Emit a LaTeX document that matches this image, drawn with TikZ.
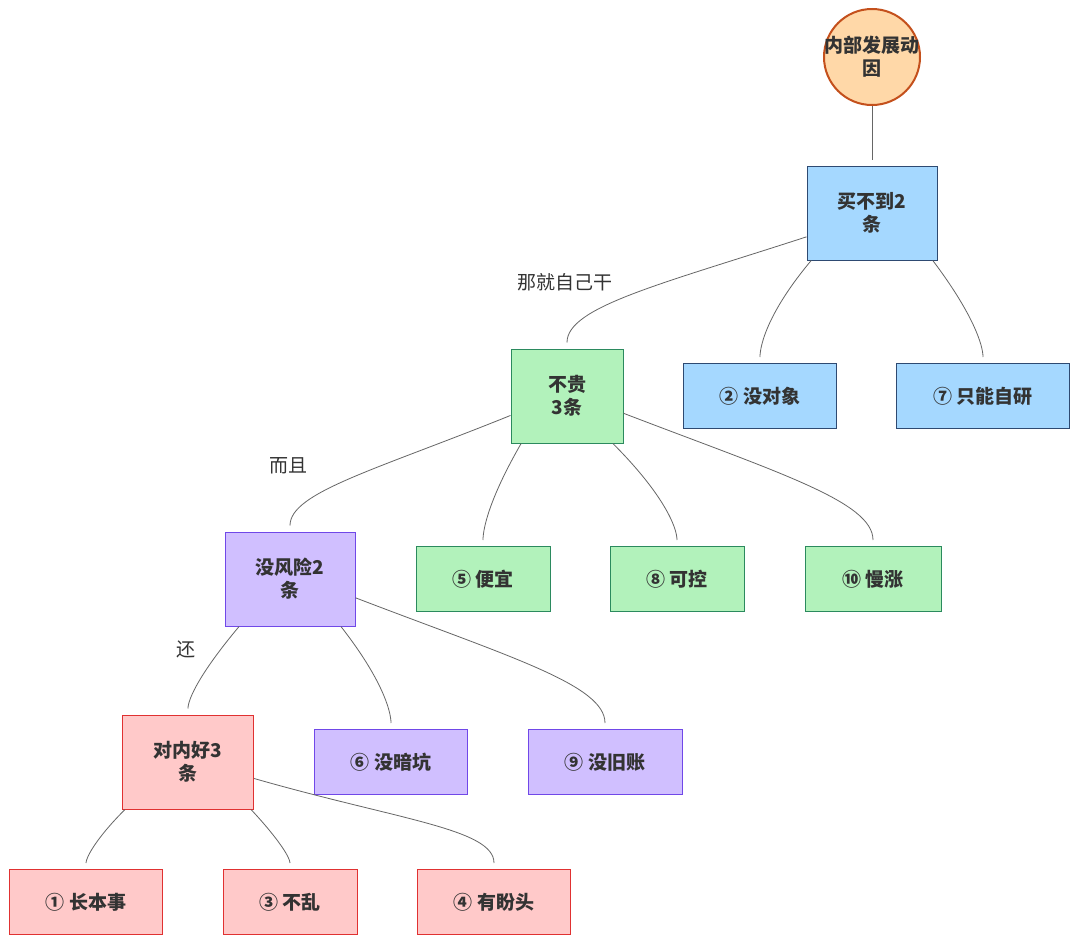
\documentclass[tikz,border=0pt]{standalone}
\usepackage{fontspec}
\setmainfont{Noto Sans CJK SC}
\definecolor{TreeInk}{HTML}{333333}
\definecolor{TreeEdge}{HTML}{666666}
\definecolor{RootFill}{HTML}{FFD8A8}
\definecolor{RootLine}{HTML}{C4501C}
\definecolor{BlueFill}{HTML}{A5D8FF}
\definecolor{BlueLine}{HTML}{2E4A72}
\definecolor{GreenFill}{HTML}{B2F2BB}
\definecolor{GreenLine}{HTML}{2B8A5E}
\definecolor{PurpleFill}{HTML}{D0BFFF}
\definecolor{PurpleLine}{HTML}{7048E8}
\definecolor{RedFill}{HTML}{FFC9C9}
\definecolor{RedLine}{HTML}{E03131}

\begin{document}
\begin{tikzpicture}[x=1pt,y=1pt,
  font=\fontsize{19}{23}\selectfont, text=TreeInk,
  hub/.style={draw, rectangle, line width=1pt, minimum height=94pt,
    align=center, font=\fontsize{19}{23}\selectfont\bfseries},
  leaf/.style={draw, rectangle, line width=1pt, minimum height=65pt,
    align=center, font=\fontsize{19}{23}\selectfont\bfseries},
  blue/.style={fill=BlueFill, draw=BlueLine},
  green/.style={fill=GreenFill, draw=GreenLine},
  purple/.style={fill=PurpleFill, draw=PurpleLine},
  red/.style={fill=RedFill, draw=RedLine},
  link/.style={draw=TreeEdge, line width=0.8pt, shorten >=6pt,
    out looseness=1.5, in looseness=0.4},
  lbl/.style={font=\fontsize{19}{23}\selectfont}
  ]
  \useasboundingbox[fill=white] (0,0) rectangle (1080,-945);

  % root
  \node[circle, minimum size=96pt, inner sep=0pt, fill=RootFill, draw=RootLine,
    line width=2pt, align=center, font=\fontsize{19}{23}\selectfont\bfseries]
    (root) at (872,-57) {\makebox[60pt]{内部发展动}\\因};

  % level 1
  \node[hub, blue, minimum width=130pt] (buy) at (872,-213) {买不到2\\条};
  \node[hub, green, minimum width=112pt] (cheap) at (567,-396) {不贵\\3条};
  \node[leaf, blue, minimum width=153pt] (two) at (760,-396) {② 没对象};
  \node[leaf, blue, minimum width=173pt] (seven) at (983,-396) {⑦ 只能自研};

  % level 2
  \node[hub, purple, minimum width=130pt] (risk) at (290,-579) {没风险2\\条};
  \node[leaf, green, minimum width=134pt] (five) at (483,-579) {⑤ 便宜};
  \node[leaf, green, minimum width=134pt] (eight) at (677,-579) {⑧ 可控};
  \node[leaf, green, minimum width=136pt] (ten) at (873,-579) {⑩ 慢涨};

  % level 3
  \node[hub, red, minimum width=131pt] (inner) at (188,-762) {对内好3\\条};
  \node[leaf, purple, minimum width=153pt] (six) at (391,-762) {⑥ 没暗坑};
  \node[leaf, purple, minimum width=154pt] (nine) at (605,-762) {⑨ 没旧账};

  % level 4
  \node[leaf, red, minimum width=153pt] (one) at (86,-902) {① 长本事};
  \node[leaf, red, minimum width=134pt] (three) at (290,-902) {③ 不乱};
  \node[leaf, red, minimum width=153pt] (four) at (494,-902) {④ 有盼头};

  % edge labels
  \node[lbl] (l1) at (565,-282) {那就自己干};
  \node[lbl] (l2) at (288,-466) {而且};
  \node[lbl] (l3) at (186,-649) {还};

  % connectors
  \draw[link] (root) -- (buy);
  \draw[link] (buy.200) to[out=198, in=90] (cheap.north);
  \draw[link] (buy.218) to[out=230, in=90] (two.north);
  \draw[link] (buy.-38) to[out=-53, in=90] (seven.north);
  \draw[link] (cheap.199) to[out=202, in=90] (risk.north);
  \draw[link] (cheap.226) to[out=240, in=90] (five.north);
  \draw[link] (cheap.-46) to[out=-45, in=90] (eight.north);
  \draw[link] (cheap.-17) to[out=-21, in=90] (ten.north);
  \draw[link] (risk.223) to[out=230, in=90] (inner.north);
  \draw[link] (risk.-43) to[out=-52, in=90] (six.north);
  \draw[link] (risk.-16) to[out=-21, in=90] (nine.north);
  \draw[link] (inner.217) to[out=225, in=90] (one.north);
  \draw[link] (inner.-37) to[out=-47, in=90] (three.north);
  \draw[link] (inner.-14) to[out=-16, in=90] (four.north);
\end{tikzpicture}
\end{document}
